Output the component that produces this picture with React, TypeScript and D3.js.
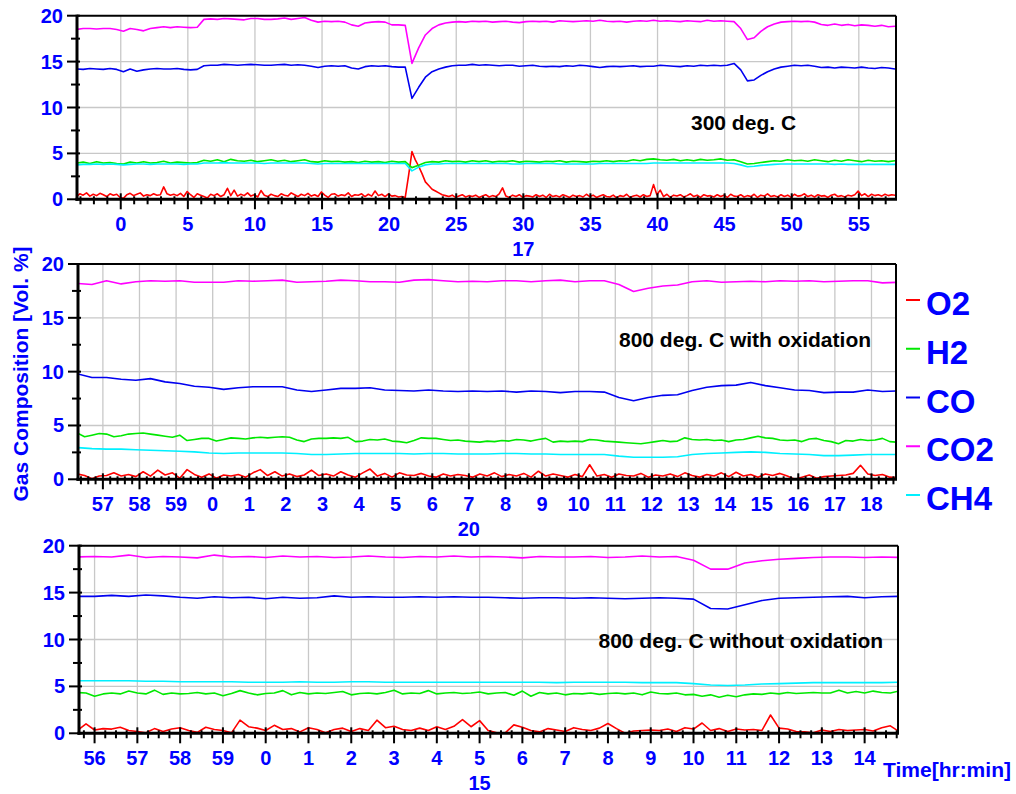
import React from 'react';
import * as d3 from 'd3';

const FONT = "'Liberation Sans', Arial, Helvetica, sans-serif";
const BLUE = '#0000ff';

const seriesNames = ['O2', 'H2', 'CO', 'CO2', 'CH4'];
const seriesColors: Record<string, string> = {
  O2: '#ff0000',
  H2: '#00e800',
  CO: '#0000f0',
  CO2: '#ff00ff',
  CH4: '#00f0ff',
};

// ---------- Panel 1 : 300 deg. C  (minutes of hour 17, sampled every 0.5 min from -3.3) ----------
const topStart = -3.3;
const topStep = 0.5;
const topO2Step = 0.25;
const topO2 = [
  0.3, 0.6, 0.45, 0.7, 0.35, 0.55, 0.4, 0.65, 0.5, 0.3,
  0.6, 0.45, 0.55, 0.2, 0.1, 0.5, 0.65, 0.4, 0.55, 0.7,
  0.35, 0.5, 0.4, 0.6, 0.45, 0.5, 1.35, 0.6, 0.45, 0.55,
  0.4, 0.65, 0.3, 0.85, 0.5, 0.2, 0.6, 0.45, 0.3, 0.15,
  0.55, 0.4, 0.6, 0.3, 0.5, 1.2, 0.4, 1.0, 0.35, 0.55,
  0.4, 0.7, 0.35, 0.5, 0.25, 0.95, 0.45, 0.3, 0.55, 0.4,
  0.3, 0.6, 0.45, 0.35, 0.7, 0.5, 0.3, 0.55, 0.4, 0.65,
  0.35, 0.5, 0.3, 0.8, 0.45, 0.2, 0.55, 0.6, 0.35, 0.5,
  0.4, 0.7, 0.3, 0.5, 0.45, 0.6, 0.3, 0.55, 0.35, 0.9,
  0.4, 0.55, 0.3, 0.6, 0.35, 0.4, 0.25, 0.3, 0.2, 2.6,
  5.2, 4.3, 3.6, 2.8, 1.9, 1.5, 1.1, 0.9, 0.7, 0.5,
  0.4, 0.3, 0.45, 0.2, 0.35, 0.5, 0.25, 0.4, 0.3, 0.45,
  0.2, 0.35, 0.5, 0.25, 0.4, 0.3, 0.6, 1.25, 0.35, 0.2,
  0.45, 0.3, 0.5, 0.2, 0.4, 0.35, 0.25, 0.5, 0.3, 0.45,
  0.2, 0.55, 0.3, 0.4, 0.25, 0.5, 0.35, 0.2, 0.45, 0.3,
  0.4, 0.25, 0.55, 0.3, 0.45, 0.2, 0.35, 0.5, 0.3, 0.25,
  0.45, 0.15, 0.4, 0.3, 0.55, 0.2, 0.35, 0.45, 0.25, 0.5,
  0.3, 0.4, 1.6, 0.5, 1.0, 0.3, 0.55, 0.2, 0.45, 0.35,
  0.5, 0.25, 0.4, 0.6, 0.3, 0.45, 0.2, 0.5, 0.35, 0.4,
  0.25, 0.5, 0.3, 0.45, 0.2, 0.55, 0.35, 0.3, 0.5, 0.25,
  0.4, 0.3, 0.55, 0.2, 0.45, 0.35, 0.6, 0.3, 0.4, 0.25,
  0.5, 0.3, 0.45, 0.2, 0.55, 0.35, 0.4, 0.6, 0.3, 0.45,
  0.25, 0.5, 0.35, 0.4, 0.2, 0.45, 0.55, 0.3, 0.4, 0.25,
  0.45, 0.35, 0.5, 0.9, 0.4, 0.6, 0.3, 0.55, 0.4, 0.5,
  0.35, 0.55, 0.4, 0.5, 0.45,
];
const topH2 = [
  3.95, 4.05, 3.9, 4.1, 3.95, 4.0, 3.9, 3.85, 4.05, 3.95,
  4.1, 3.95, 4.0, 4.15, 3.95, 4.05, 4.0, 3.95, 4.0, 4.25,
  4.15, 4.3, 4.1, 4.35, 4.2, 4.15, 4.25, 4.1, 4.2, 4.3,
  4.15, 4.25, 4.1, 4.2, 4.3, 4.1, 4.05, 4.2, 4.1, 4.15,
  4.05, 4.1, 4.0, 4.15, 4.05, 4.1, 4.0, 4.15, 4.05, 4.1,
  3.45, 3.7, 4.0, 4.1, 4.05, 4.2, 4.1, 4.15, 4.05, 4.2,
  4.1, 4.2, 4.05, 4.15, 4.1, 4.2, 4.05, 4.15, 4.1, 4.05,
  4.15, 4.1, 4.2, 4.05, 4.15, 4.1, 4.05, 4.15, 4.1, 4.2,
  4.1, 4.2, 4.15, 4.3, 4.2, 4.35, 4.4, 4.3, 4.25, 4.35,
  4.2, 4.3, 4.2, 4.35, 4.25, 4.3, 4.4, 4.25, 4.3, 4.1,
  3.85, 3.9, 4.0, 4.1, 4.2, 4.15, 4.3, 4.2, 4.25, 4.15,
  4.3, 4.2, 4.1, 4.25, 4.15, 4.3, 4.2, 4.1, 4.25, 4.15,
  4.2, 4.1, 4.2,
];
const topCO = [
  14.2, 14.15, 14.25, 14.2, 14.15, 14.25, 14.15, 13.9, 14.2, 13.95,
  14.1, 14.2, 14.25, 14.2, 14.2, 14.25, 14.15, 14.1, 14.15, 14.55,
  14.6, 14.6, 14.7, 14.65, 14.6, 14.65, 14.7, 14.65, 14.6, 14.6,
  14.65, 14.7, 14.6, 14.65, 14.6, 14.5, 14.35, 14.5, 14.55, 14.5,
  14.55, 14.3, 14.2, 14.45, 14.55, 14.5, 14.55, 14.45, 14.4, 14.4,
  11.0, 12.2, 13.3, 13.9, 14.2, 14.4, 14.55, 14.6, 14.6, 14.7,
  14.6, 14.65, 14.6, 14.55, 14.6, 14.6, 14.5, 14.55, 14.6, 14.5,
  14.45, 14.5, 14.45, 14.55, 14.5, 14.6, 14.55, 14.45, 14.35, 14.45,
  14.5, 14.45, 14.5, 14.55, 14.45, 14.5, 14.5, 14.6, 14.55, 14.5,
  14.45, 14.55, 14.5, 14.6, 14.55, 14.6, 14.55, 14.6, 14.8, 14.1,
  12.9, 13.0, 13.5, 13.9, 14.2, 14.4, 14.5, 14.6, 14.55, 14.6,
  14.5, 14.35, 14.4, 14.3, 14.4, 14.35, 14.3, 14.4, 14.3, 14.25,
  14.35, 14.3, 14.2,
];
const topCO2 = [
  18.5, 18.6, 18.6, 18.55, 18.6, 18.6, 18.5, 18.3, 18.6, 18.5,
  18.35, 18.6, 18.7, 18.8, 18.7, 18.8, 18.75, 18.7, 18.75, 19.6,
  19.65, 19.6, 19.7, 19.65, 19.6, 19.55, 19.7, 19.7, 19.6, 19.6,
  19.65, 19.75, 19.6, 19.7, 19.8, 19.5, 19.3, 19.4, 19.35, 19.4,
  19.3, 19.0, 18.85, 19.2, 19.3, 19.35, 19.3, 19.0, 19.0, 18.95,
  14.8, 16.5, 17.9, 18.6, 19.0, 19.2, 19.3, 19.35, 19.3, 19.4,
  19.35, 19.4, 19.3, 19.35, 19.4, 19.3, 19.25, 19.35, 19.4, 19.35,
  19.4, 19.3, 19.45, 19.4, 19.35, 19.4, 19.45, 19.4, 19.5, 19.4,
  19.35, 19.4, 19.3, 19.4, 19.45, 19.4, 19.5, 19.4, 19.45, 19.4,
  19.35, 19.45, 19.4, 19.35, 19.5, 19.4, 19.45, 19.4, 19.35, 18.6,
  17.4, 17.6, 18.3, 18.8, 19.1, 19.3, 19.35, 19.4, 19.35, 19.4,
  19.3, 19.05, 18.95, 19.1, 18.95, 19.05, 18.9, 19.0, 18.95, 18.85,
  18.95, 18.8, 18.85,
];
const topCH4 = [
  3.75, 3.8, 3.8, 3.85, 3.8, 3.85, 3.8, 3.75, 3.8, 3.85,
  3.85, 3.8, 3.85, 3.85, 3.85, 3.85, 3.8, 3.85, 3.85, 3.95,
  3.95, 3.95, 4.0, 3.95, 3.95, 3.95, 3.95, 3.95, 3.9, 3.95,
  3.95, 3.95, 3.95, 3.95, 3.95, 3.9, 3.85, 3.9, 3.9, 3.9,
  3.9, 3.9, 3.9, 3.9, 3.9, 3.9, 3.9, 3.9, 3.9, 3.9,
  3.1, 3.5, 3.75, 3.85, 3.85, 3.9, 3.9, 3.9, 3.9, 3.9,
  3.9, 3.9, 3.9, 3.9, 3.9, 3.85, 3.85, 3.9, 3.9, 3.9,
  3.9, 3.9, 3.85, 3.85, 3.85, 3.85, 3.85, 3.85, 3.9, 3.9,
  3.9, 3.9, 3.9, 3.9, 3.9, 3.9, 3.95, 3.95, 3.95, 3.95,
  3.95, 3.95, 3.95, 3.95, 3.95, 3.95, 3.95, 3.95, 3.9, 3.75,
  3.55, 3.6, 3.7, 3.75, 3.8, 3.85, 3.85, 3.85, 3.85, 3.85,
  3.85, 3.85, 3.85, 3.8, 3.85, 3.8, 3.8, 3.8, 3.8, 3.8,
  3.8, 3.8, 3.8,
];

// ---------- Panel 2 : 800 deg. C with oxidation (minutes around hour 20) ----------
const midStart = -3.7;
const midFineStep = 0.2;
const midCoarseStep = 0.4;
const midO2 = [
  0.5, 0.35, 0.05, 0.3, 0.35, 0.6, 0.3, 0.45, 0.25, 0.7,
  0.3, 0.85, 0.4, 0.6, 0.1, 0.9, 0.45, 0.2, 0.5, 0.1,
  0.4, 0.3, 0.45, 0.2, 0.6, 0.9, 0.35, 0.7, 0.3, 0.5,
  0.25, 0.4, 0.85, 0.35, 0.5, 0.3, 0.7, 0.4, 0.2, 0.6,
  0.95, 0.3, 0.55, 0.2, 0.6, 0.4, 0.35, 0.55, 0.3, 0.2,
  0.5, 0.3, 0.45, 0.35, 0.2, 0.5, 0.3, 0.6, 0.25, 0.45,
  0.3, 0.55, 0.2, 0.75, 0.3, 0.5, 0.35, 0.2, 0.45, 0.25,
  1.35, 0.3, 0.45, 0.2, 0.5, 0.35, 0.3, 0.55, 0.2, 0.4,
  0.3, 0.5, 0.25, 0.6, 0.35, 0.2, 0.45, 0.3, 0.6, 0.25,
  0.65, 0.3, 0.45, 0.2, 0.5, 0.35, 0.55, 0.3, 0.0, 0.2,
  0.4, 0.1, 0.25, 0.3, 0.35, 0.4, 0.55, 1.3, 0.5, 0.35,
  0.45, 0.2, 0.15,
];
const midH2 = [
  4.3, 3.95, 4.1, 4.25, 4.2, 3.95, 4.05, 4.2, 4.25, 4.3,
  4.2, 4.1, 4.0, 3.9, 4.1, 3.6, 3.7, 3.8, 3.8, 3.55,
  3.7, 3.85, 3.8, 3.75, 3.85, 3.9, 3.85, 3.9, 3.95, 3.9,
  3.65, 3.5, 3.75, 3.8, 3.8, 3.85, 3.8, 3.9, 3.5, 3.55,
  3.7, 3.65, 3.75, 3.55, 3.5, 3.4, 3.6, 3.85, 3.8, 3.8,
  3.7, 3.6, 3.65, 3.55, 3.5, 3.45, 3.55, 3.5, 3.6, 3.55,
  3.7, 3.65, 3.55, 3.7, 3.8, 3.45, 3.55, 3.5, 3.55, 3.5,
  3.7, 3.65, 3.55, 3.5, 3.45, 3.4, 3.35, 3.3, 3.4, 3.5,
  3.6, 3.5, 3.55, 3.85, 3.7, 3.65, 3.7, 3.6, 3.65, 3.5,
  3.65, 3.7, 3.85, 4.0, 3.85, 3.8, 3.65, 3.6, 3.65, 3.5,
  3.75, 3.8, 3.6, 3.5, 3.3, 3.6, 3.55, 3.7, 3.6, 3.65,
  3.8, 3.5, 3.45,
];
const midCO = [
  9.8, 9.45, 9.45, 9.3, 9.2, 9.35, 9.05, 8.9, 8.65, 8.55,
  8.35, 8.5, 8.6, 8.6, 8.6, 8.3, 8.15, 8.3, 8.45, 8.45,
  8.5, 8.3, 8.25, 8.2, 8.3, 8.2, 8.15, 8.2, 8.15, 8.2,
  8.1, 8.2, 8.15, 8.05, 8.15, 8.15, 8.1, 7.6, 7.3, 7.6,
  7.8, 7.85, 8.25, 8.55, 8.7, 8.75, 9.0, 8.7, 8.5, 8.3,
  8.25, 8.05, 8.1, 8.1, 8.3, 8.15, 8.2,
];
const midCO2 = [
  18.2, 18.1, 18.45, 18.15, 18.35, 18.45, 18.4, 18.45, 18.3, 18.3,
  18.3, 18.45, 18.4, 18.45, 18.5, 18.3, 18.35, 18.4, 18.5, 18.45,
  18.35, 18.35, 18.3, 18.5, 18.55, 18.45, 18.35, 18.4, 18.35, 18.45,
  18.45, 18.35, 18.45, 18.5, 18.35, 18.45, 18.45, 18.1, 17.45, 17.75,
  17.95, 18.05, 18.35, 18.45, 18.3, 18.35, 18.4, 18.35, 18.45, 18.4,
  18.45, 18.35, 18.4, 18.45, 18.45, 18.25, 18.3,
];
const midCH4 = [
  2.95, 2.85, 2.8, 2.8, 2.75, 2.7, 2.65, 2.6, 2.55, 2.45,
  2.4, 2.45, 2.45, 2.45, 2.45, 2.4, 2.3, 2.3, 2.35, 2.4,
  2.4, 2.4, 2.4, 2.35, 2.4, 2.4, 2.35, 2.35, 2.35, 2.4,
  2.4, 2.35, 2.35, 2.3, 2.3, 2.3, 2.3, 2.15, 2.05, 2.05,
  2.05, 2.1, 2.3, 2.4, 2.45, 2.5, 2.55, 2.5, 2.4, 2.35,
  2.3, 2.2, 2.2, 2.25, 2.3, 2.3, 2.3,
];

// ---------- Panel 3 : 800 deg. C without oxidation (minutes around hour 15) ----------
const botStart = -4.4;
const botFineStep = 0.2;
const botCoarseStep = 0.4;
const botO2 = [
  0.3, 1.0, 0.35, 0.5, 0.45, 0.65, 0.3, 0.2, 0.05, 0.5,
  0.2, 0.45, 0.6, 0.3, 0.1, 0.65, 0.4, 0.3, 0.05, 1.4,
  0.7, 0.55, 0.3, 0.85, 0.4, 0.5, 0.15, 0.6, 0.4, 0.05,
  0.4, 0.55, 0.2, 0.5, 0.3, 1.4, 0.6, 0.75, 0.4, 0.3,
  0.55, 0.3, 0.7, 0.4, 0.75, 1.45, 0.7, 1.35, 0.3, 0.05,
  0.05, 0.9, 0.65, 0.3, 0.15, 0.5, 0.35, 0.2, 0.6, 0.4,
  0.3, 0.55, 1.05, 0.5, 0.0, 0.25, 0.3, 0.35, 0.3, 0.45,
  0.2, 0.6, 0.45, 1.1, 0.3, 0.5, 0.2, 0.45, 0.35, 0.4,
  0.3, 1.95, 0.55, 0.45, 0.2, 0.15, 0.05, 0.35, 0.2, 0.4,
  0.3, 0.35, 0.4, 0.25, 0.6, 0.8, 0.2,
];
const botH2 = [
  4.35, 4.3, 3.95, 4.2, 4.3, 4.2, 4.5, 4.3, 4.2, 4.6,
  4.15, 4.3, 4.2, 4.25, 4.35, 4.2, 4.3, 4.0, 4.25, 4.55,
  4.3, 4.1, 4.25, 4.3, 4.55, 4.1, 4.35, 4.2, 4.3, 4.25,
  4.35, 4.45, 4.1, 4.25, 4.3, 4.2, 4.35, 4.6, 4.2, 4.3,
  4.25, 4.55, 4.2, 4.3, 4.35, 4.25, 4.3, 4.4, 4.2, 4.3,
  4.35, 4.05, 4.5, 3.95, 4.35, 4.2, 4.3, 4.1, 4.25, 4.2,
  4.3, 4.15, 4.25, 4.3, 4.2, 4.3, 4.1, 4.4, 4.25, 4.2,
  4.3, 4.1, 4.15, 3.95, 4.1, 3.85, 4.05, 3.9, 4.1, 4.2,
  4.15, 4.3, 4.2, 4.35, 4.25, 4.3, 4.35, 4.3, 4.3, 4.6,
  4.3, 4.45, 4.3, 4.5, 4.35, 4.3, 4.5,
];
const botCO = [
  14.6, 14.6, 14.7, 14.6, 14.75, 14.65, 14.5, 14.4, 14.55, 14.45,
  14.5, 14.35, 14.5, 14.4, 14.45, 14.65, 14.5, 14.55, 14.5, 14.5,
  14.55, 14.5, 14.55, 14.5, 14.5, 14.45, 14.4, 14.45, 14.45, 14.4,
  14.45, 14.4, 14.35, 14.4, 14.45, 14.4, 14.3, 13.3, 13.25, 13.7,
  14.15, 14.4, 14.45, 14.5, 14.55, 14.6, 14.45, 14.55, 14.6,
];
const botCO2 = [
  18.8, 18.85, 18.8, 19.0, 18.75, 18.85, 18.8, 18.7, 19.0, 18.8,
  18.85, 18.75, 18.9, 18.8, 18.85, 18.75, 18.8, 18.9, 18.8, 18.75,
  18.85, 18.8, 18.9, 18.8, 18.85, 18.8, 18.7, 18.85, 18.8, 18.8,
  18.85, 18.75, 18.8, 18.9, 18.8, 18.85, 18.45, 17.5, 17.5, 18.15,
  18.4, 18.55, 18.65, 18.75, 18.8, 18.8, 18.75, 18.8, 18.75,
];
const botCH4 = [
  5.6, 5.6, 5.6, 5.6, 5.55, 5.55, 5.5, 5.5, 5.5, 5.5,
  5.45, 5.45, 5.45, 5.5, 5.45, 5.45, 5.5, 5.5, 5.45, 5.45,
  5.45, 5.45, 5.45, 5.45, 5.45, 5.45, 5.45, 5.45, 5.4, 5.45,
  5.45, 5.45, 5.45, 5.4, 5.4, 5.4, 5.3, 5.15, 5.1, 5.15,
  5.25, 5.3, 5.35, 5.4, 5.4, 5.4, 5.4, 5.4, 5.45,
];

const yTicksMajor = [0, 5, 10, 15, 20];
const yTicksMinor = [2.5, 7.5, 12.5, 17.5];

type Series = { name: string; start: number; step: number; values: number[] };
type PanelCfg = {
  id: string;
  left: number; right: number; top: number; bottom: number;
  domain: [number, number];
  majorFrom: number; majorTo: number; majorStep: number;
  minorStep: number;
  wrap: boolean;
  hourLabel: string; hourAt: number;
  note: string; noteX: number; noteY: number;
  series: Series[];
};

const panels: PanelCfg[] = [
  {
    id: 'p1', left: 77, right: 896, top: 15.7, bottom: 199.3,
    domain: [-3.26, 57.77], majorFrom: 0, majorTo: 55, majorStep: 5, minorStep: 1, wrap: false,
    hourLabel: '17', hourAt: 30,
    note: '300 deg. C', noteX: 691, noteY: 130,
    series: [
      { name: 'O2', start: topStart, step: topO2Step, values: topO2 },
      { name: 'H2', start: topStart, step: topStep, values: topH2 },
      { name: 'CO', start: topStart, step: topStep, values: topCO },
      { name: 'CO2', start: topStart, step: topStep, values: topCO2 },
      { name: 'CH4', start: topStart, step: topStep, values: topCH4 },
    ],
  },
  {
    id: 'p2', left: 78, right: 896, top: 264, bottom: 479.3,
    domain: [-3.68, 18.67], majorFrom: -3, majorTo: 18, majorStep: 1, minorStep: 0.2, wrap: true,
    hourLabel: '20', hourAt: 7,
    note: '800 deg. C with oxidation', noteX: 619, noteY: 346.5,
    series: [
      { name: 'O2', start: midStart, step: midFineStep, values: midO2 },
      { name: 'H2', start: midStart, step: midFineStep, values: midH2 },
      { name: 'CO', start: midStart, step: midCoarseStep, values: midCO },
      { name: 'CO2', start: midStart, step: midCoarseStep, values: midCO2 },
      { name: 'CH4', start: midStart, step: midCoarseStep, values: midCH4 },
    ],
  },
  {
    id: 'p3', left: 79, right: 898, top: 545.7, bottom: 733.3,
    domain: [-4.364, 14.78], majorFrom: -4, majorTo: 14, majorStep: 1, minorStep: 0.25, wrap: true,
    hourLabel: '15', hourAt: 5,
    note: '800 deg. C without oxidation', noteX: 598.5, noteY: 648.3,
    series: [
      { name: 'O2', start: botStart, step: botFineStep, values: botO2 },
      { name: 'H2', start: botStart, step: botFineStep, values: botH2 },
      { name: 'CO', start: botStart, step: botCoarseStep, values: botCO },
      { name: 'CO2', start: botStart, step: botCoarseStep, values: botCO2 },
      { name: 'CH4', start: botStart, step: botCoarseStep, values: botCH4 },
    ],
  },
];

function Panel({ p }: { p: PanelCfg }) {
  const x = d3.scaleLinear().domain(p.domain).range([p.left, p.right]);
  const y = d3.scaleLinear().domain([0, 20]).range([p.bottom, p.top]);
  const nMaj = Math.round((p.majorTo - p.majorFrom) / p.majorStep);
  const majors = d3.range(0, nMaj + 1).map((k) => p.majorFrom + k * p.majorStep);
  const k0 = Math.ceil(p.domain[0] / p.minorStep);
  const k1 = Math.floor(p.domain[1] / p.minorStep);
  const minors = d3
    .range(k0, k1 + 1)
    .map((k) => k * p.minorStep)
    .filter((v) => majors.every((m) => Math.abs(m - v) > 1e-6));
  const fmt = (v: number) => String(p.wrap && v < 0 ? v + 60 : v);
  const clipId = `clip-${p.id}`;
  return (
    <g>
      <defs>
        <clipPath id={clipId}>
          <rect x={p.left} y={p.top} width={p.right - p.left} height={p.bottom - p.top} />
        </clipPath>
      </defs>
      {majors.map((m) => (
        <line key={`vg${m}`} x1={x(m)} x2={x(m)} y1={p.top} y2={p.bottom} stroke="#c8c8c8" strokeWidth={1.3} />
      ))}
      {[5, 10, 15].map((v) => (
        <line key={`hg${v}`} x1={p.left} x2={p.right} y1={y(v)} y2={y(v)} stroke="#c8c8c8" strokeWidth={1.3} />
      ))}
      <g clipPath={`url(#${clipId})`}>
        {p.series.map((s) => {
          const line = d3
            .line<number>()
            .x((_, i) => x(s.start + i * s.step))
            .y((d) => y(d));
          return (
            <path key={s.name} d={line(s.values) || ''} fill="none" stroke={seriesColors[s.name]} strokeWidth={1.6} strokeLinejoin="round" />
          );
        })}
      </g>
      <line x1={p.left} x2={p.right} y1={p.top} y2={p.top} stroke="#000" strokeWidth={2} />
      <line x1={p.right} x2={p.right} y1={p.top} y2={p.bottom} stroke="#000" strokeWidth={2} />
      <line x1={p.left} x2={p.left} y1={p.top - 1} y2={p.bottom + 1.5} stroke="#000" strokeWidth={3} />
      <line x1={p.left - 1.5} x2={p.right + 1} y1={p.bottom} y2={p.bottom} stroke="#000" strokeWidth={3} />
      {minors.map((v) => (
        <line key={`mn${v}`} x1={x(v)} x2={x(v)} y1={p.bottom - 3} y2={p.bottom + 5} stroke="#000" strokeWidth={2} />
      ))}
      {majors.map((v) => (
        <line key={`mj${v}`} x1={x(v)} x2={x(v)} y1={p.bottom - 6} y2={p.bottom + 10} stroke="#000" strokeWidth={2} />
      ))}
      {majors.map((v) => (
        <text key={`xl${v}`} x={x(v)} y={p.bottom + 32} textAnchor="middle" fontFamily={FONT} fontWeight="bold" fontSize={20} fill={BLUE}>
          {fmt(v)}
        </text>
      ))}
      <text x={x(p.hourAt)} y={p.bottom + 57} textAnchor="middle" fontFamily={FONT} fontWeight="bold" fontSize={20} fill={BLUE}>
        {p.hourLabel}
      </text>
      {yTicksMinor.map((v) => (
        <line key={`ymn${v}`} x1={p.left - 6} x2={p.left + 3} y1={y(v)} y2={y(v)} stroke="#000" strokeWidth={2} />
      ))}
      {yTicksMajor.map((v) => (
        <line key={`ymj${v}`} x1={p.left - 10} x2={p.left + 3} y1={y(v)} y2={y(v)} stroke="#000" strokeWidth={2} />
      ))}
      {yTicksMajor.map((v) => (
        <text key={`yl${v}`} x={p.left - 14} y={y(v) + 7} textAnchor="end" fontFamily={FONT} fontWeight="bold" fontSize={20} fill={BLUE}>
          {v}
        </text>
      ))}
      <text x={p.noteX} y={p.noteY} fontFamily={FONT} fontWeight="bold" fontSize={21} fill="#000">
        {p.note}
      </text>
    </g>
  );
}

export default function App() {
  const legendY = d3.scaleLinear().domain([0, seriesNames.length - 1]).range([300, 495]);
  return (
    <svg width={1016} height={794} style={{ position: 'absolute', left: 0, top: 0, background: '#fff' }}>
      <rect x={0} y={0} width={1016} height={794} fill="#fff" />
      {panels.map((p) => (
        <Panel key={p.id} p={p} />
      ))}
      <text
        transform="translate(28,374) rotate(-90)"
        textAnchor="middle"
        fontFamily={FONT}
        fontWeight="bold"
        fontSize={21}
        fill={BLUE}
      >
        Gas Composition [Vol. %]
      </text>
      {seriesNames.map((n, i) => (
        <g key={n}>
          <line x1={906} x2={920} y1={legendY(i)} y2={legendY(i)} stroke={seriesColors[n]} strokeWidth={2} />
          <text x={926} y={legendY(i) + 15} fontFamily={FONT} fontWeight="bold" fontSize={33} fill={BLUE}>
            {n}
          </text>
        </g>
      ))}
      <text x={883} y={776.5} fontFamily={FONT} fontWeight="bold" fontSize={21} fill={BLUE}>
        Time[hr:min]
      </text>
    </svg>
  );
}
